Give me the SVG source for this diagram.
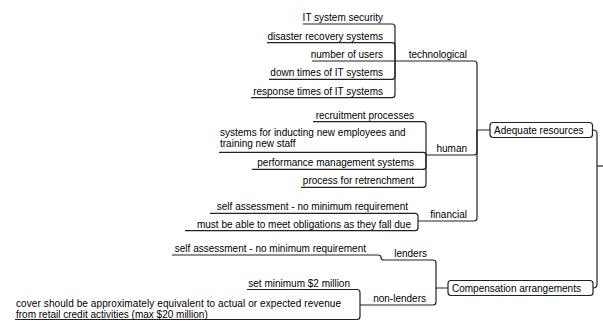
<svg xmlns="http://www.w3.org/2000/svg" width="603" height="328" viewBox="0 0 603 328">
<style>
text{font-family:"Liberation Sans",Arial,sans-serif;font-size:10px;fill:#000}
.e{text-anchor:end}
.c{fill:none;stroke:#222;stroke-width:1.2}
.box{fill:#fff;stroke:#222;stroke-width:1.2}
</style>
<rect width="603" height="328" fill="#fff"/>
<g id="connectors" class="c">
<!-- root -->
<path d="M593,130 Q597,130 597,134 V284 Q597,288 593,288"/>
<path d="M597,166 H603"/>
<!-- Adequate resources -->
<path d="M490,130 H477 V64 Q477,61 474,61 H395"/>
<path d="M477,130 V152 Q477,155 474,155 H426"/>
<path d="M477,130 V218 Q477,221 474,221 H418"/>
<!-- technological -->
<path d="M395,61 V27 Q395,24 392,24 H303"/>
<path d="M395,61 V45.7 Q395,42.7 392,42.7 H267"/>
<path d="M395,61 H312"/>
<path d="M395,61 V76.3 Q395,79.3 392,79.3 H269"/>
<path d="M395,61 V94.7 Q395,97.7 392,97.7 H251"/>
<!-- human -->
<path d="M426,155 V124.7 Q426,121.7 423,121.7 H313"/>
<path d="M426,155 Q426,152.3 423,152.3 H219"/>
<path d="M426,155 V166.3 Q426,169.3 423,169.3 H252"/>
<path d="M426,155 V184.3 Q426,187.3 423,187.3 H301"/>
<!-- financial -->
<path d="M418,221 V216.3 Q418,213.3 415,213.3 H210"/>
<path d="M418,221 V227.7 Q418,230.7 415,230.7 H185"/>
<!-- Compensation arrangements -->
<path d="M448,288 H436 V263 Q436,260 433,260 H384 Q381,260 381,257.5 Q381,255 378,255 H172"/>
<path d="M436,288 V302 Q436,305 433,305 H360"/>
<!-- non-lenders -->
<path d="M360,305 V292.5 Q360,289.5 357,289.5 H247"/>
<path d="M360,305 V316.5 Q360,319.5 357,319.5 H15"/>
</g>
<g id="adequate-resources">
<rect class="box" x="490" y="122.5" width="102.5" height="15" rx="3"/>
<text x="494" y="133.5">Adequate resources</text>
</g>
<g id="compensation-arrangements">
<rect class="box" x="448" y="280.5" width="145" height="15" rx="3"/>
<text x="452" y="291.5">Compensation arrangements</text>
</g>
<g id="technological"><text class="e" x="467" y="58">technological</text></g>
<g id="human"><text class="e" x="467" y="152">human</text></g>
<g id="financial"><text class="e" x="467" y="218">financial</text></g>
<g id="lenders"><text class="e" x="427" y="257">lenders</text></g>
<g id="non-lenders"><text class="e" x="426" y="302">non-lenders</text></g>
<g id="it-system-security"><text class="e" x="383" y="21">IT system security</text></g>
<g id="disaster-recovery"><text class="e" x="383" y="39.7">disaster recovery systems</text></g>
<g id="number-of-users"><text class="e" x="383" y="58">number of users</text></g>
<g id="down-times"><text class="e" x="383" y="76.3">down times of IT systems</text></g>
<g id="response-times"><text class="e" x="383" y="94.7">response times of IT systems</text></g>
<g id="recruitment"><text class="e" x="414" y="118.7">recruitment processes</text></g>
<g id="inducting"><text x="220" y="136">systems for inducting new employees and</text><text x="220" y="147">training new staff</text></g>
<g id="performance"><text class="e" x="414" y="166.3">performance management systems</text></g>
<g id="retrenchment"><text class="e" x="414" y="184.3">process for retrenchment</text></g>
<g id="fin-self-assessment"><text class="e" x="408" y="210.3">self assessment - no minimum requirement</text></g>
<g id="obligations"><text class="e" x="411" y="227.7">must be able to meet obligations as they fall due</text></g>
<g id="lend-self-assessment"><text class="e" x="366" y="252">self assessment - no minimum requirement</text></g>
<g id="set-minimum"><text class="e" x="350" y="286.5">set minimum $2 million</text></g>
<g id="cover"><text x="16" y="307" textLength="325" lengthAdjust="spacing">cover should be approximately equivalent to actual or expected revenue</text><text x="16" y="317.5">from retail credit activities (max $20 million)</text></g>
</svg>
